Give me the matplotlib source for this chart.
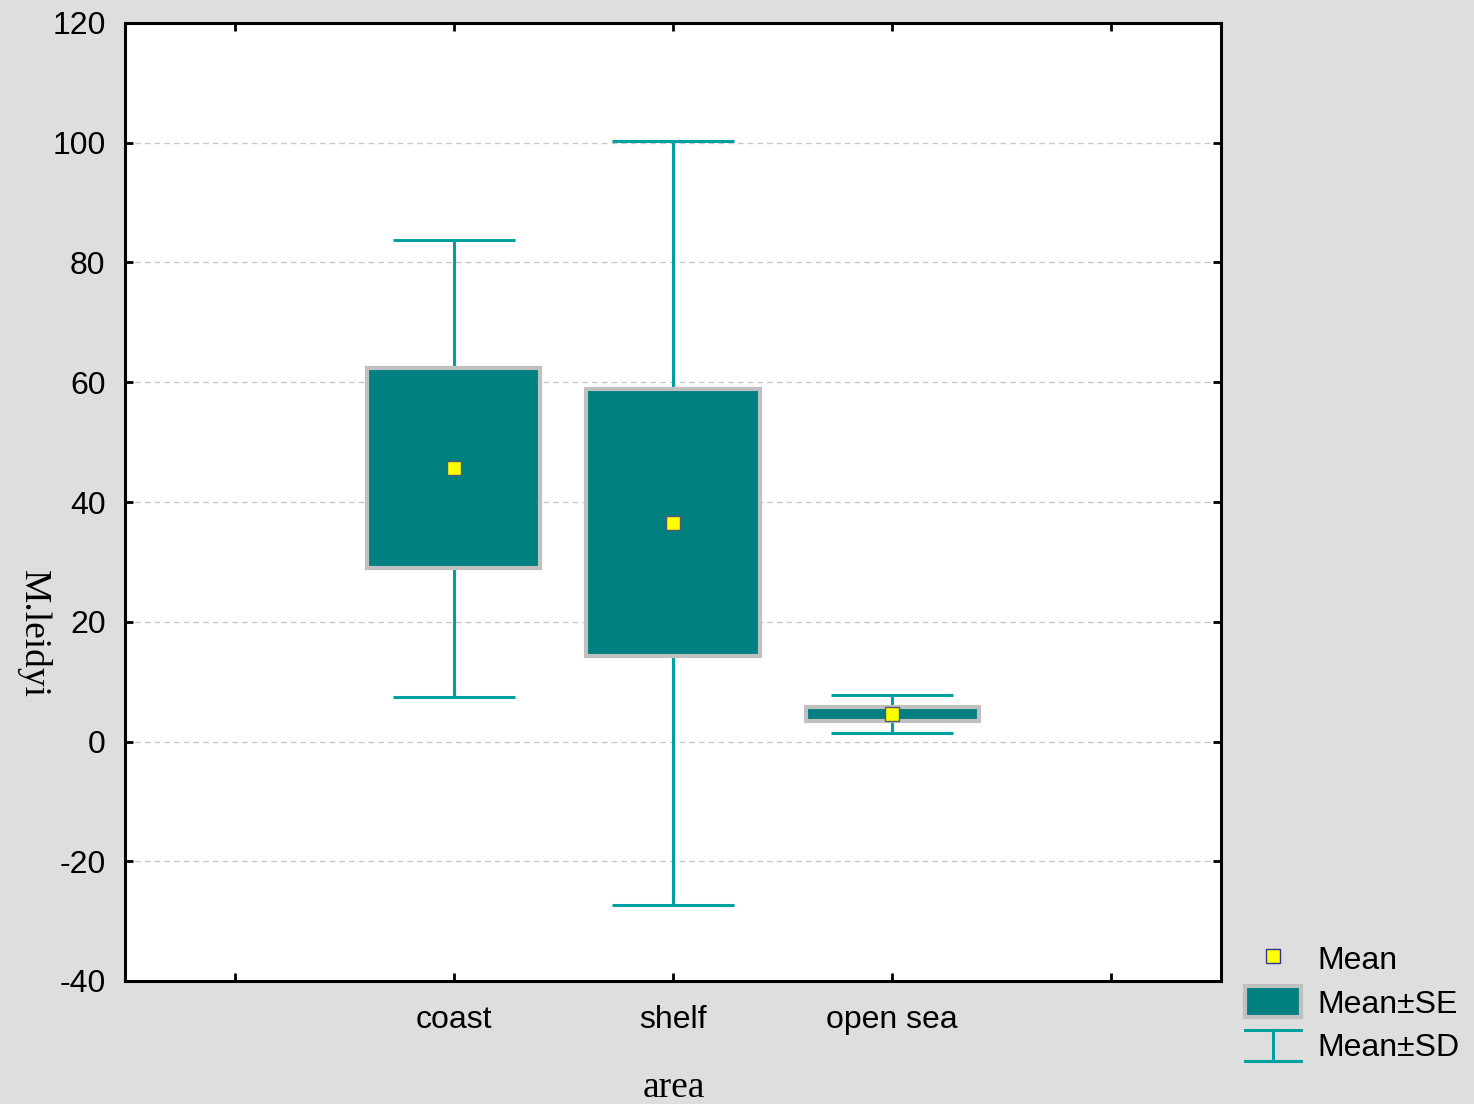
import matplotlib
matplotlib.use("Agg")
from matplotlib import pyplot as plt
from matplotlib.lines import Line2D
from matplotlib.patches import Patch
from matplotlib.legend_handler import HandlerBase
import numpy as np

# values
areas = ["coast", "shelf", "open sea"]
means = [45.6, 36.5, 4.6]
se = [16.7, 22.3, 1.1]
sd = [38.2, 63.8, 3.1]

box_color = "#008080"
box_edge = "#C0C0C0"
bar_color = "#00A0A0"
mean_color = "#FFFF00"

plt.rcParams["font.family"] = ["Liberation Sans", "DejaVu Sans"]
plt.rcParams["axes.unicode_minus"] = False


class HandlerSD(HandlerBase):
    def create_artists(self, legend, orig_handle, xdescent, ydescent,
                       width, height, fontsize, trans):
        x0, x1 = -xdescent, -xdescent + width
        y0, y1 = -ydescent, -ydescent + height
        xm = (x0 + x1) / 2
        kw = dict(color=bar_color, lw=2.2, transform=trans)
        return [Line2D([x0, x1], [y1, y1], **kw),
                Line2D([x0, x1], [y0, y0], **kw),
                Line2D([xm, xm], [y0, y1], **kw)]


fig = plt.figure(figsize=(14.74, 11.04), dpi=100, facecolor="#DEDEDE")
ax = fig.add_axes([125 / 1474, 1 - 981 / 1104, 1096 / 1474, 958 / 1104])
ax.set_facecolor("white")

x = np.arange(1, len(areas) + 1)
means = np.array(means)
se = np.array(se)
sd = np.array(sd)

ax.errorbar(x, means, yerr=sd, fmt="none", ecolor=bar_color,
            elinewidth=2.2, capsize=44, capthick=2.2, zorder=2)
ax.bar(x, 2 * se, bottom=means - se, width=0.79, color=box_color,
       edgecolor=box_edge, linewidth=3, zorder=3)
ax.plot(x, means, linestyle="none", marker="s", markersize=10,
        markerfacecolor=mean_color, markeredgecolor="#555577",
        markeredgewidth=1, zorder=4)

ax.set_xlim(-0.5, 4.5)
ax.set_ylim(-40, 120)
ax.set_xticks(range(0, 5))
ax.set_xticklabels([""] + areas + [""])
ax.set_yticks(range(-40, 121, 20))
ax.yaxis.grid(True, color="#C8C8C8", linestyle=(0, (4, 3)), linewidth=1)
ax.set_axisbelow(True)

ax.tick_params(direction="in", top=True, right=True, length=6, width=2,
               labelsize=23)
ax.tick_params(axis="x", pad=17)
ax.tick_params(axis="y", pad=14)
for s in ax.spines.values():
    s.set_linewidth(2.2)

fig.text(33 / 1474, 1 - 634 / 1104, "M.leidyi", rotation=270,
         ha="center", va="center", fontsize=27, family="Liberation Serif")
fig.text(674 / 1474, 1 - 1088 / 1104, "area", ha="center", va="center",
         fontsize=27, family="Liberation Serif")

h_mean = Line2D([], [], linestyle="none", marker="s", markersize=10,
                markerfacecolor=mean_color, markeredgecolor="#333399",
                markeredgewidth=1)
h_se = Patch(facecolor=box_color, edgecolor=box_edge, linewidth=3)
h_sd = object()
fig.legend([h_mean, h_se, h_sd], ["Mean", "Mean±SE", "Mean±SD"],
           handler_map={h_sd: HandlerSD()},
           loc="center left", bbox_to_anchor=(1245 / 1474, 1 - 1003 / 1104),
           bbox_transform=fig.transFigure, frameon=False, fontsize=23,
           handlelength=1.75, handleheight=1.1, labelspacing=0.33,
           handletextpad=0.52, borderpad=0, borderaxespad=0)

plt.savefig("out.png", dpi=100, facecolor=fig.get_facecolor())
